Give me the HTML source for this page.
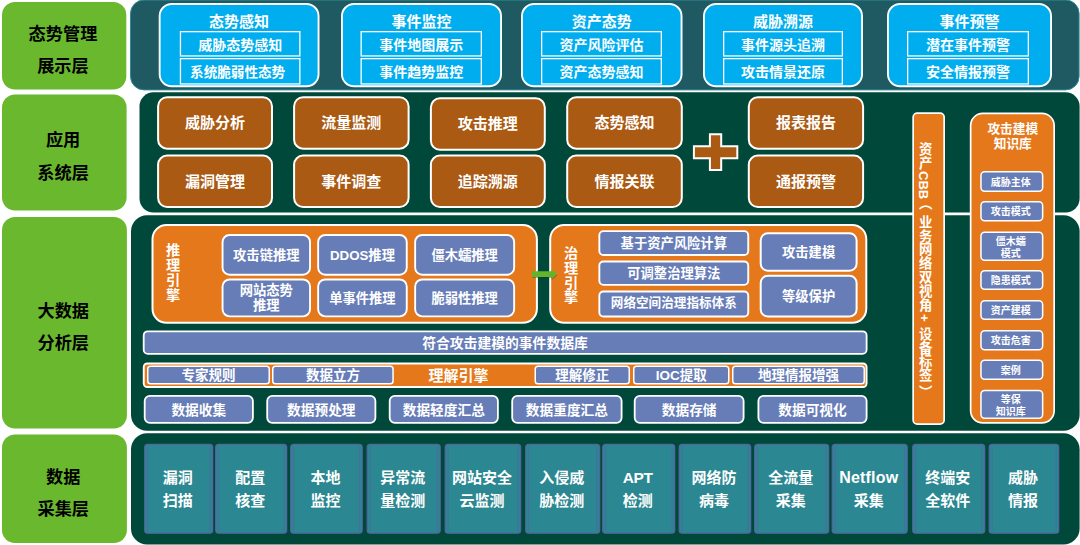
<!DOCTYPE html>
<html lang="zh"><head><meta charset="utf-8"><title>架构图</title><style>
html,body{margin:0;padding:0;background:#fff}
body{width:1080px;height:545px;overflow:hidden;position:relative;font-family:"Liberation Sans","Noto Sans CJK SC",sans-serif;font-weight:bold;color:#fff}
#c{position:absolute;left:0;top:0;width:1080px;height:545px;overflow:hidden}
#c>svg{position:absolute;left:0;top:0}
.t{position:absolute;box-sizing:border-box;display:flex;align-items:center;justify-content:center;text-align:center;white-space:nowrap}
.lab{color:#000;font-size:17.2px;line-height:32.5px}
.bt{font-size:15px;line-height:26px}
.bi{font-size:14px}
.brown{font-size:15px}
.v{position:absolute;writing-mode:vertical-rl;white-space:nowrap}
.kt{font-size:12.7px;line-height:15.2px}
.sp{font-size:10px;line-height:12.6px}
.vlab{font-size:14.2px;line-height:14.8px}
.pp{font-size:13.3px;line-height:15px}
.bar{font-size:13.8px}
.ui{font-size:13.5px}
.ut{font-size:15px}
.dr{font-size:13.7px}
.teal{font-size:15px;line-height:23px}
i{font-style:normal}
.nf{font-size:16px;letter-spacing:0.2px}
.apt{font-size:15.5px;letter-spacing:-0.3px}
</style></head><body><div id="c">
<svg width="1080" height="545" viewBox="0 0 1080 545">
<rect x="2.00" y="2.00" width="124.30" height="87.50" rx="13.00" fill="#6AB82E"/>
<rect x="2.00" y="94.50" width="124.60" height="116.00" rx="13.00" fill="#6AB82E"/>
<rect x="2.00" y="217.00" width="124.90" height="211.50" rx="13.00" fill="#6AB82E"/>
<rect x="2.00" y="434.50" width="124.90" height="108.50" rx="13.00" fill="#6AB82E"/>
<rect x="130.50" y="0.00" width="948.60" height="89.90" rx="13.50" fill="#1F5A62" stroke="#2C8B97" stroke-width="1"/>
<rect x="139.50" y="92.30" width="940.10" height="120.20" rx="14.00" fill="#00483A"/>
<rect x="131.00" y="215.30" width="948.60" height="215.40" rx="16.00" fill="#00483A"/>
<rect x="131.00" y="433.20" width="948.60" height="111.30" rx="16.00" fill="#00483A"/>
<rect x="159.65" y="3.95" width="158.90" height="82.30" rx="12.05" fill="#00AEEF" stroke="#fff" stroke-width="1.9"/>
<rect x="180.45" y="31.65" width="119.40" height="24.30" rx="0.00" fill="none" stroke="#fff" stroke-width="1.3"/>
<rect x="180.45" y="58.65" width="119.40" height="25.30" rx="0.00" fill="none" stroke="#fff" stroke-width="1.3"/>
<rect x="341.95" y="3.95" width="159.10" height="82.30" rx="12.05" fill="#00AEEF" stroke="#fff" stroke-width="1.9"/>
<rect x="361.15" y="31.65" width="120.20" height="24.30" rx="0.00" fill="none" stroke="#fff" stroke-width="1.3"/>
<rect x="361.15" y="58.65" width="120.20" height="25.30" rx="0.00" fill="none" stroke="#fff" stroke-width="1.3"/>
<rect x="521.95" y="3.95" width="159.60" height="82.30" rx="12.05" fill="#00AEEF" stroke="#fff" stroke-width="1.9"/>
<rect x="541.65" y="31.65" width="119.70" height="24.30" rx="0.00" fill="none" stroke="#fff" stroke-width="1.3"/>
<rect x="541.65" y="58.65" width="119.70" height="25.30" rx="0.00" fill="none" stroke="#fff" stroke-width="1.3"/>
<rect x="703.95" y="3.95" width="158.10" height="82.30" rx="12.05" fill="#00AEEF" stroke="#fff" stroke-width="1.9"/>
<rect x="723.65" y="31.65" width="118.70" height="24.30" rx="0.00" fill="none" stroke="#fff" stroke-width="1.3"/>
<rect x="723.65" y="58.65" width="118.70" height="25.30" rx="0.00" fill="none" stroke="#fff" stroke-width="1.3"/>
<rect x="887.95" y="3.95" width="163.10" height="82.30" rx="12.05" fill="#00AEEF" stroke="#fff" stroke-width="1.9"/>
<rect x="907.65" y="31.65" width="120.70" height="24.30" rx="0.00" fill="none" stroke="#fff" stroke-width="1.3"/>
<rect x="907.65" y="58.65" width="120.70" height="25.30" rx="0.00" fill="none" stroke="#fff" stroke-width="1.3"/>
<rect x="158.10" y="97.20" width="113.90" height="51.50" rx="9.00" fill="#AA5A12" stroke="#fff" stroke-width="2"/>
<rect x="158.10" y="155.60" width="113.90" height="51.40" rx="9.00" fill="#AA5A12" stroke="#fff" stroke-width="2"/>
<rect x="294.10" y="97.20" width="114.50" height="51.50" rx="9.00" fill="#AA5A12" stroke="#fff" stroke-width="2"/>
<rect x="294.10" y="155.60" width="114.50" height="51.40" rx="9.00" fill="#AA5A12" stroke="#fff" stroke-width="2"/>
<rect x="430.90" y="98.30" width="113.90" height="51.50" rx="9.00" fill="#AA5A12" stroke="#fff" stroke-width="2"/>
<rect x="430.90" y="155.60" width="113.90" height="51.40" rx="9.00" fill="#AA5A12" stroke="#fff" stroke-width="2"/>
<rect x="567.20" y="97.20" width="114.60" height="51.50" rx="9.00" fill="#AA5A12" stroke="#fff" stroke-width="2"/>
<rect x="567.20" y="155.60" width="114.60" height="51.40" rx="9.00" fill="#AA5A12" stroke="#fff" stroke-width="2"/>
<rect x="748.80" y="97.20" width="114.30" height="51.50" rx="9.00" fill="#AA5A12" stroke="#fff" stroke-width="2"/>
<rect x="748.80" y="155.60" width="114.30" height="51.40" rx="9.00" fill="#AA5A12" stroke="#fff" stroke-width="2"/>
<path d="M709.9 134.3H721.2V146.3H737.3V158.2H721.2V170H709.9V158.2H693.9V146.3H709.9Z" fill="#AA5A12" stroke="#fff" stroke-width="2"/>
<rect x="913.15" y="113.15" width="31.00" height="311.00" rx="4.15" fill="#E5781A" stroke="#fff" stroke-width="1.7"/>
<rect x="970.65" y="113.45" width="83.50" height="309.40" rx="12.15" fill="#E5781A" stroke="#fff" stroke-width="1.7"/>
<rect x="980.95" y="171.75" width="61.70" height="19.50" rx="3.75" fill="#677DB7" stroke="#fff" stroke-width="1.5"/>
<rect x="980.95" y="201.75" width="61.70" height="19.00" rx="3.75" fill="#677DB7" stroke="#fff" stroke-width="1.5"/>
<rect x="980.95" y="232.25" width="61.70" height="28.00" rx="3.75" fill="#677DB7" stroke="#fff" stroke-width="1.5"/>
<rect x="980.95" y="270.75" width="61.70" height="18.50" rx="3.75" fill="#677DB7" stroke="#fff" stroke-width="1.5"/>
<rect x="980.95" y="300.75" width="61.70" height="18.50" rx="3.75" fill="#677DB7" stroke="#fff" stroke-width="1.5"/>
<rect x="980.95" y="330.75" width="61.70" height="19.00" rx="3.75" fill="#677DB7" stroke="#fff" stroke-width="1.5"/>
<rect x="980.95" y="360.25" width="61.70" height="19.00" rx="3.75" fill="#677DB7" stroke="#fff" stroke-width="1.5"/>
<rect x="980.95" y="390.45" width="61.70" height="27.80" rx="3.75" fill="#677DB7" stroke="#fff" stroke-width="1.5"/>
<rect x="152.50" y="225.00" width="384.40" height="97.80" rx="14.00" fill="#E5781A" stroke="#fff" stroke-width="2"/>
<rect x="222.55" y="234.95" width="87.50" height="39.80" rx="7.05" fill="#677DB7" stroke="#fff" stroke-width="1.9"/>
<rect x="318.15" y="234.95" width="88.60" height="39.80" rx="7.05" fill="#677DB7" stroke="#fff" stroke-width="1.9"/>
<rect x="415.15" y="234.95" width="99.00" height="39.80" rx="7.05" fill="#677DB7" stroke="#fff" stroke-width="1.9"/>
<rect x="222.55" y="279.45" width="87.50" height="36.90" rx="7.05" fill="#677DB7" stroke="#fff" stroke-width="1.9"/>
<rect x="318.15" y="279.45" width="88.60" height="36.90" rx="7.05" fill="#677DB7" stroke="#fff" stroke-width="1.9"/>
<rect x="415.15" y="279.45" width="99.00" height="36.90" rx="7.05" fill="#677DB7" stroke="#fff" stroke-width="1.9"/>
<rect x="550.20" y="225.00" width="316.10" height="97.80" rx="14.00" fill="#E5781A" stroke="#fff" stroke-width="2"/>
<rect x="599.35" y="231.15" width="148.90" height="23.90" rx="4.05" fill="#677DB7" stroke="#fff" stroke-width="1.9"/>
<rect x="599.35" y="261.55" width="148.90" height="23.30" rx="4.05" fill="#677DB7" stroke="#fff" stroke-width="1.9"/>
<rect x="599.35" y="291.55" width="148.90" height="24.90" rx="4.05" fill="#677DB7" stroke="#fff" stroke-width="1.9"/>
<rect x="760.70" y="233.30" width="95.90" height="37.40" rx="7.00" fill="#677DB7" stroke="#fff" stroke-width="2"/>
<rect x="760.70" y="275.80" width="95.90" height="40.60" rx="7.00" fill="#677DB7" stroke="#fff" stroke-width="2"/>
<rect x="143.70" y="331.30" width="722.90" height="22.60" rx="4.10" fill="#677DB7" stroke="#fff" stroke-width="1.8"/>
<rect x="143.75" y="363.45" width="722.80" height="23.60" rx="3.55" fill="#E5781A" stroke="#fff" stroke-width="1.9"/>
<rect x="147.75" y="366.35" width="121.50" height="17.50" rx="2.75" fill="#677DB7" stroke="#fff" stroke-width="1.5"/>
<rect x="272.75" y="366.35" width="120.30" height="17.50" rx="2.75" fill="#677DB7" stroke="#fff" stroke-width="1.5"/>
<rect x="535.25" y="366.35" width="94.00" height="17.50" rx="2.75" fill="#677DB7" stroke="#fff" stroke-width="1.5"/>
<rect x="633.75" y="366.35" width="95.00" height="17.50" rx="2.75" fill="#677DB7" stroke="#fff" stroke-width="1.5"/>
<rect x="732.75" y="366.35" width="131.50" height="17.50" rx="2.75" fill="#677DB7" stroke="#fff" stroke-width="1.5"/>
<rect x="144.70" y="395.90" width="108.20" height="27.00" rx="5.10" fill="#677DB7" stroke="#fff" stroke-width="1.8"/>
<rect x="267.20" y="395.90" width="108.20" height="27.00" rx="5.10" fill="#677DB7" stroke="#fff" stroke-width="1.8"/>
<rect x="389.70" y="395.90" width="108.20" height="27.00" rx="5.10" fill="#677DB7" stroke="#fff" stroke-width="1.8"/>
<rect x="512.20" y="395.90" width="109.40" height="27.00" rx="5.10" fill="#677DB7" stroke="#fff" stroke-width="1.8"/>
<rect x="634.70" y="395.90" width="108.90" height="27.00" rx="5.10" fill="#677DB7" stroke="#fff" stroke-width="1.8"/>
<rect x="758.40" y="395.90" width="108.20" height="27.00" rx="5.10" fill="#677DB7" stroke="#fff" stroke-width="1.8"/>
<rect x="144.70" y="444.40" width="68.00" height="88.80" rx="2.90" fill="#2B8791" stroke="#5365A0" stroke-width="1.2"/>
<path d="M210.0 446.5V531.5M147.5 446.5V531.5" stroke="#4F68A2" stroke-width="1.1" opacity="0.8" fill="none"/>
<rect x="215.70" y="444.40" width="71.00" height="88.80" rx="2.90" fill="#2B8791" stroke="#5365A0" stroke-width="1.2"/>
<path d="M284.0 446.5V531.5M218.5 446.5V531.5" stroke="#4F68A2" stroke-width="1.1" opacity="0.8" fill="none"/>
<rect x="290.70" y="444.40" width="71.50" height="88.80" rx="2.90" fill="#2B8791" stroke="#5365A0" stroke-width="1.2"/>
<path d="M359.5 446.5V531.5M293.5 446.5V531.5" stroke="#4F68A2" stroke-width="1.1" opacity="0.8" fill="none"/>
<rect x="367.20" y="444.40" width="73.00" height="88.80" rx="2.90" fill="#2B8791" stroke="#5365A0" stroke-width="1.2"/>
<path d="M437.5 446.5V531.5M370.0 446.5V531.5" stroke="#4F68A2" stroke-width="1.1" opacity="0.8" fill="none"/>
<rect x="445.20" y="444.40" width="75.50" height="88.80" rx="2.90" fill="#2B8791" stroke="#5365A0" stroke-width="1.2"/>
<path d="M518.0 446.5V531.5M448.0 446.5V531.5" stroke="#4F68A2" stroke-width="1.1" opacity="0.8" fill="none"/>
<rect x="525.70" y="444.40" width="74.00" height="88.80" rx="2.90" fill="#2B8791" stroke="#5365A0" stroke-width="1.2"/>
<path d="M597.0 446.5V531.5M528.5 446.5V531.5" stroke="#4F68A2" stroke-width="1.1" opacity="0.8" fill="none"/>
<rect x="602.70" y="444.40" width="72.00" height="88.80" rx="2.90" fill="#2B8791" stroke="#5365A0" stroke-width="1.2"/>
<path d="M672.0 446.5V531.5M605.5 446.5V531.5" stroke="#4F68A2" stroke-width="1.1" opacity="0.8" fill="none"/>
<rect x="679.20" y="444.40" width="71.50" height="88.80" rx="2.90" fill="#2B8791" stroke="#5365A0" stroke-width="1.2"/>
<path d="M748.0 446.5V531.5M682.0 446.5V531.5" stroke="#4F68A2" stroke-width="1.1" opacity="0.8" fill="none"/>
<rect x="754.70" y="444.40" width="74.00" height="88.80" rx="2.90" fill="#2B8791" stroke="#5365A0" stroke-width="1.2"/>
<path d="M826.0 446.5V531.5M757.5 446.5V531.5" stroke="#4F68A2" stroke-width="1.1" opacity="0.8" fill="none"/>
<rect x="832.20" y="444.40" width="75.00" height="88.80" rx="2.90" fill="#2B8791" stroke="#5365A0" stroke-width="1.2"/>
<path d="M904.5 446.5V531.5M835.0 446.5V531.5" stroke="#4F68A2" stroke-width="1.1" opacity="0.8" fill="none"/>
<rect x="912.70" y="444.40" width="72.00" height="88.80" rx="2.90" fill="#2B8791" stroke="#5365A0" stroke-width="1.2"/>
<path d="M982.0 446.5V531.5M915.5 446.5V531.5" stroke="#4F68A2" stroke-width="1.1" opacity="0.8" fill="none"/>
<rect x="989.20" y="444.40" width="69.50" height="88.80" rx="2.90" fill="#2B8791" stroke="#5365A0" stroke-width="1.2"/>
<path d="M1056.0 446.5V531.5M992.0 446.5V531.5" stroke="#4F68A2" stroke-width="1.1" opacity="0.8" fill="none"/>
<path d="M532.3 272.3H551.7V270.2L557.2 275.2L551.7 280.2V278H532.3Z" fill="#1d3a1a" opacity="0.35"/>
<path d="M532 271.3H551.7V269.3L557 274.2L551.7 279.1V277H532Z" fill="#62B52A"/>
</svg>
<div class="t lab" style="left:0.8px;top:6.3px;width:124.3px;height:87.5px;"><span>态势管理<br>展示层</span></div>
<div class="t lab" style="left:0.8px;top:98.8px;width:124.6px;height:116.0px;"><span>应用<br>系统层</span></div>
<div class="t lab" style="left:0.8px;top:221.3px;width:124.9px;height:211.5px;"><span>大数据<br>分析层</span></div>
<div class="t lab" style="left:0.8px;top:438.8px;width:124.9px;height:108.5px;"><span>数据<br>采集层</span></div>
<div class="t bt" style="left:158.7px;top:9px;width:160.8px;height:26px;"><span>态势感知</span></div>
<div class="t bi" style="left:179.8px;top:31px;width:120.69999999999999px;height:25.6px;"><span>威胁态势感知</span></div>
<div class="t bi" style="left:177.3px;top:58px;width:120.69999999999999px;height:26.599999999999994px;font-size:13.6px"><span>系统脆弱性态势</span></div>
<div class="t bt" style="left:341px;top:9px;width:161px;height:26px;"><span>事件监控</span></div>
<div class="t bi" style="left:360.5px;top:31px;width:121.5px;height:25.6px;"><span>事件地图展示</span></div>
<div class="t bi" style="left:360.5px;top:58px;width:121.5px;height:26.599999999999994px;"><span>事件趋势监控</span></div>
<div class="t bt" style="left:521px;top:9px;width:161.5px;height:26px;"><span>资产态势</span></div>
<div class="t bi" style="left:541px;top:31px;width:121px;height:25.6px;"><span>资产风险评估</span></div>
<div class="t bi" style="left:541px;top:58px;width:121px;height:26.599999999999994px;"><span>资产态势感知</span></div>
<div class="t bt" style="left:703px;top:9px;width:160px;height:26px;"><span>威胁溯源</span></div>
<div class="t bi" style="left:723px;top:31px;width:120px;height:25.6px;"><span>事件源头追溯</span></div>
<div class="t bi" style="left:723px;top:58px;width:120px;height:26.599999999999994px;"><span>攻击情景还原</span></div>
<div class="t bt" style="left:887px;top:9px;width:165px;height:26px;"><span>事件预警</span></div>
<div class="t bi" style="left:907px;top:31px;width:122px;height:25.6px;"><span>潜在事件预警</span></div>
<div class="t bi" style="left:907px;top:58px;width:122px;height:26.599999999999994px;"><span>安全情报预警</span></div>
<div class="t brown" style="left:157.1px;top:95.0px;width:115.9px;height:53.499999999999986px;"><span>威胁分析</span></div>
<div class="t brown" style="left:157.1px;top:153.4px;width:115.9px;height:53.400000000000006px;"><span>漏洞管理</span></div>
<div class="t brown" style="left:293.1px;top:95.0px;width:116.5px;height:53.499999999999986px;"><span>流量监测</span></div>
<div class="t brown" style="left:293.1px;top:153.4px;width:116.5px;height:53.400000000000006px;"><span>事件调查</span></div>
<div class="t brown" style="left:429.9px;top:96.1px;width:115.89999999999998px;height:53.499999999999986px;"><span>攻击推理</span></div>
<div class="t brown" style="left:429.9px;top:153.4px;width:115.89999999999998px;height:53.400000000000006px;"><span>追踪溯源</span></div>
<div class="t brown" style="left:566.2px;top:95.0px;width:116.59999999999991px;height:53.499999999999986px;"><span>态势感知</span></div>
<div class="t brown" style="left:566.2px;top:153.4px;width:116.59999999999991px;height:53.400000000000006px;"><span>情报关联</span></div>
<div class="t brown" style="left:747.8px;top:95.0px;width:116.30000000000007px;height:53.499999999999986px;"><span>报表报告</span></div>
<div class="t brown" style="left:747.8px;top:153.4px;width:116.30000000000007px;height:53.400000000000006px;"><span>通报预警</span></div>
<div class="v" style="left:917.20px;top:141.7px;width:13.4px;font-size:13.4px;line-height:13.4px;letter-spacing:0.4px">资产</div>
<div class="v" style="left:917.40px;top:171.2px;width:13px;font-size:13px;line-height:13px;letter-spacing:0px">CBB</div>
<div class="v" style="left:917.20px;top:196.2px;width:13.4px;font-size:13.4px;line-height:13.4px;letter-spacing:0.4px">（</div>
<div class="v" style="left:917.20px;top:214.79999999999998px;width:13.4px;font-size:13.4px;line-height:13.4px;letter-spacing:0.4px">业务网络双视角</div>
<div class="v" style="left:917.20px;top:314.2px;width:13.4px;font-size:13.4px;line-height:13.4px;letter-spacing:0.4px">+</div>
<div class="v" style="left:917.20px;top:326.5px;width:13.4px;font-size:13.4px;line-height:13.4px;letter-spacing:0.4px">设备标签</div>
<div class="v" style="left:917.20px;top:384.9px;width:13.4px;font-size:13.4px;line-height:13.4px;letter-spacing:0.4px">）</div>
<div class="t kt" style="left:971px;top:115.8px;width:83.5px;height:42.000000000000014px;"><span>攻击建模<br>知识库</span></div>
<div class="t sp" style="left:979.2px;top:172.3px;width:63.200000000000045px;height:21px;"><span>威胁主体</span></div>
<div class="t sp" style="left:979.2px;top:202.3px;width:63.200000000000045px;height:20.5px;"><span>攻击模式</span></div>
<div class="t sp" style="left:979.2px;top:233.5px;width:63.200000000000045px;height:29.5px;"><span>僵木蠕<br>模式</span></div>
<div class="t sp" style="left:979.2px;top:271.3px;width:63.200000000000045px;height:20px;"><span>隐患模式</span></div>
<div class="t sp" style="left:979.2px;top:301.3px;width:63.200000000000045px;height:20px;"><span>资产建模</span></div>
<div class="t sp" style="left:979.2px;top:331.3px;width:63.200000000000045px;height:20.5px;"><span>攻击危害</span></div>
<div class="t sp" style="left:979.2px;top:360.8px;width:63.200000000000045px;height:20.5px;"><span>案例</span></div>
<div class="t sp" style="left:979.2px;top:391.7px;width:63.200000000000045px;height:29.30000000000001px;"><span>等保<br>知识库</span></div>
<div class="t vlab" style="left:159px;top:243px;width:28px;height:60px;"><span>推<br>理<br>引<br>擎</span></div>
<div class="t pp" style="left:221.6px;top:235px;width:89.4px;height:41.69999999999999px;"><span>攻击链推理</span></div>
<div class="t pp" style="left:317.2px;top:235px;width:90.5px;height:41.69999999999999px;"><span>DDOS推理</span></div>
<div class="t pp" style="left:414.2px;top:235px;width:100.90000000000003px;height:41.69999999999999px;"><span>僵木蠕推理</span></div>
<div class="t pp" style="left:221.6px;top:278.5px;width:89.4px;height:38.80000000000001px;"><span>网站态势<br>推理</span></div>
<div class="t pp" style="left:317.2px;top:279.5px;width:90.5px;height:38.80000000000001px;"><span>单事件推理</span></div>
<div class="t pp" style="left:414.2px;top:279.5px;width:100.90000000000003px;height:38.80000000000001px;"><span>脆弱性推理</span></div>
<div class="t vlab" style="left:557px;top:245.5px;width:28px;height:60.0px;"><span>治<br>理<br>引<br>擎</span></div>
<div class="t pp" style="left:598.4px;top:230.2px;width:150.80000000000007px;height:25.80000000000001px;font-size:13.3px"><span>基于资产风险计算</span></div>
<div class="t pp" style="left:598.4px;top:260.6px;width:150.80000000000007px;height:25.19999999999999px;font-size:13.3px"><span>可调整治理算法</span></div>
<div class="t pp" style="left:598.4px;top:290.6px;width:150.80000000000007px;height:26.799999999999955px;font-size:12.6px"><span>网络空间治理指标体系</span></div>
<div class="t pp" style="left:759.7px;top:232.8px;width:97.89999999999998px;height:39.39999999999998px;"><span>攻击建模</span></div>
<div class="t pp" style="left:759.7px;top:275.3px;width:97.89999999999998px;height:42.599999999999966px;"><span>等级保护</span></div>
<div class="t bar" style="left:143px;top:329.6px;width:724px;height:23.899999999999977px;"><span>符合攻击建模的事件数据库</span></div>
<div class="t ui" style="left:147px;top:364.8px;width:123px;height:19.0px;"><span>专家规则</span></div>
<div class="t ui" style="left:272px;top:364.8px;width:121.80000000000001px;height:19.0px;"><span>数据立方</span></div>
<div class="t ui" style="left:534.5px;top:364.8px;width:95.5px;height:19.0px;"><span>理解修正</span></div>
<div class="t ui" style="left:633px;top:364.8px;width:96.5px;height:19.0px;"><span>IOC提取</span></div>
<div class="t ui" style="left:732px;top:364.8px;width:133px;height:19.0px;"><span>地理情报增强</span></div>
<div class="t ut" style="left:388px;top:362px;width:141px;height:24.5px;"><span>理解引擎</span></div>
<div class="t dr" style="left:143.8px;top:394.2px;width:110.0px;height:28.80000000000001px;"><span>数据收集</span></div>
<div class="t dr" style="left:266.3px;top:394.2px;width:110.0px;height:28.80000000000001px;"><span>数据预处理</span></div>
<div class="t dr" style="left:388.8px;top:394.2px;width:110.0px;height:28.80000000000001px;"><span>数据轻度汇总</span></div>
<div class="t dr" style="left:511.3px;top:394.2px;width:111.19999999999999px;height:28.80000000000001px;"><span>数据重度汇总</span></div>
<div class="t dr" style="left:633.8px;top:394.2px;width:110.70000000000005px;height:28.80000000000001px;"><span>数据存储</span></div>
<div class="t dr" style="left:757.5px;top:394.2px;width:110.0px;height:28.80000000000001px;"><span>数据可视化</span></div>
<div class="t teal" style="left:143.5px;top:444px;width:68.5px;height:89px;"><span>漏洞<br>扫描</span></div>
<div class="t teal" style="left:214.5px;top:444px;width:71.5px;height:89px;"><span>配置<br>核查</span></div>
<div class="t teal" style="left:289.5px;top:444px;width:72.0px;height:89px;"><span>本地<br>监控</span></div>
<div class="t teal" style="left:366px;top:444px;width:73.5px;height:89px;"><span>异常流<br>量检测</span></div>
<div class="t teal" style="left:444px;top:444px;width:76px;height:89px;"><span>网站安全<br>云监测</span></div>
<div class="t teal" style="left:524.5px;top:444px;width:74.5px;height:89px;"><span>入侵威<br>胁检测</span></div>
<div class="t teal" style="left:601.5px;top:444px;width:72.5px;height:89px;"><span><i class="apt">APT</i><br>检测</span></div>
<div class="t teal" style="left:678px;top:444px;width:72px;height:89px;"><span>网络防<br>病毒</span></div>
<div class="t teal" style="left:753.5px;top:444px;width:74.5px;height:89px;"><span>全流量<br>采集</span></div>
<div class="t teal" style="left:831px;top:444px;width:75.5px;height:89px;"><span><i class="nf">Netflow</i><br>采集</span></div>
<div class="t teal" style="left:911.5px;top:444px;width:72.5px;height:89px;"><span>终端安<br>全软件</span></div>
<div class="t teal" style="left:988px;top:444px;width:70px;height:89px;"><span>威胁<br>情报</span></div>
</div></body></html>
